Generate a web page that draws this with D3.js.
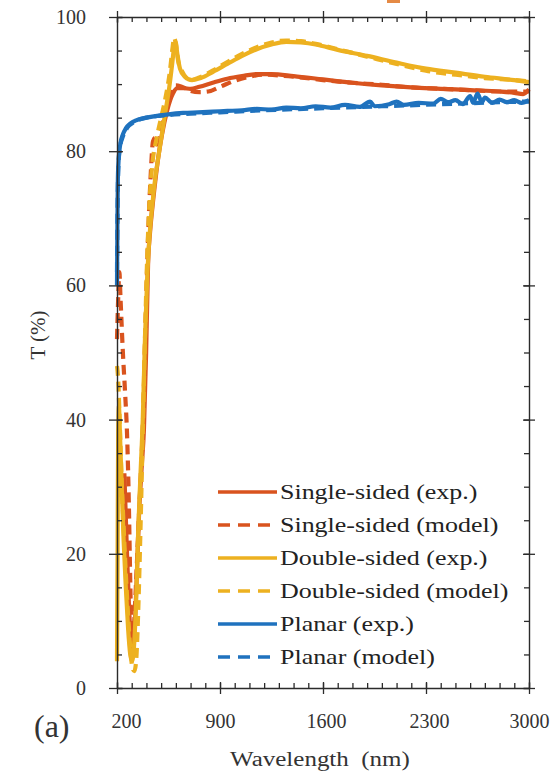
<!DOCTYPE html>
<html><head><meta charset="utf-8">
<script src="https://cdn.jsdelivr.net/npm/d3@7"></script>
<style>
html,body{margin:0;padding:0;background:#fff;}
svg{display:block;}
svg text{font-family:"Liberation Serif","Times New Roman",Times,serif;}
</style></head>
<body><svg id="chart" width="560" height="774"></svg>
<script>
// ---- data (wavelength nm, transmittance %) ----
const singleExp = [[250,32],[265,22],[280,13],[295,7],[308,5.5],[320,9],[335,17],[350,26],[368,33],[383,38.5],[398,50],[411,63],[425,68],[440,71.5],[460,75.5],[480,79],[506,82.5],[540,86],[580,88.6],[610,89.4],[650,89.4],[700,89.3],[760,89.6],[850,90.2],[950,90.8],[1050,91.2],[1150,91.5],[1250,91.5],[1400,91.2],[1600,90.7],[1800,90.2],[2000,89.8],[2200,89.5],[2400,89.3],[2600,89.1],[2800,88.9],[2900,88.7],[2960,88.5],[3000,89.2]];
const singleModel = [[200,52],[208,58],[216,62],[224,58],[240,50],[255,44],[268,38],[280,28],[290,16],[298,8],[305,6],[315,9],[328,15],[340,21],[358,30],[377,40],[395,55],[411,67],[428,76],[445,81.5],[460,82],[475,81],[495,82.5],[525,85.5],[560,88],[600,89.8],[640,89.6],[700,89],[760,88.8],[820,88.9],[900,89.6],[1000,90.5],[1100,91.1],[1200,91.4],[1400,91.1],[1600,90.6],[1800,90.2],[2000,89.9],[2200,89.5],[2400,89.3],[2600,89.1],[2800,88.9],[3000,88.9]];
const doubleExp = [[200,4],[204,20],[208,38],[213,42],[220,38],[232,30],[245,22],[260,15],[275,9],[290,5],[302,4],[315,6],[330,13],[345,24],[360,32],[375,40],[390,52],[405,61],[420,67],[440,72],[460,76],[480,79],[505,82.5],[530,86],[555,89.5],[575,93],[588,95.5],[598,96.3],[610,94.5],[628,92.3],[660,91.1],[710,90.6],[770,90.9],[850,91.8],[950,93],[1050,94.2],[1150,95.2],[1250,95.9],[1350,96.3],[1450,96.2],[1550,95.9],[1700,95.1],[1900,94.2],[2100,93.2],[2300,92.3],[2500,91.7],[2700,91.1],[2900,90.6],[3000,90.3]];
const doubleModel = [[200,48],[208,46],[218,40],[230,32],[245,24],[260,17],[275,11],[290,6],[305,3],[318,2.5],[330,4],[345,12],[360,24],[375,38],[390,52],[405,64],[420,72],[440,78],[470,82],[500,85],[530,88],[560,92],[578,95.5],[588,96.9],[600,96],[615,93.5],[640,92],[700,90.6],[760,91],[850,92],[950,93.3],[1050,94.5],[1150,95.5],[1250,96.2],[1350,96.5],[1450,96.4],[1550,96],[1700,95.2],[1900,94.1],[2100,93],[2300,92],[2500,91.4],[2700,90.9],[2900,90.6],[3000,90.4]];
const planarExp = [[200,60],[203,70],[206,76],[212,79],[222,81],[240,82.5],[260,83.4],[290,84.1],[330,84.6],[380,84.9],[450,85.2],[550,85.5],[650,85.7],[750,85.8],[850,85.9],[950,86],[1050,86.1],[1150,86.3],[1250,86.2],[1350,86.5],[1450,86.4],[1550,86.7],[1650,86.5],[1750,86.9],[1850,86.6],[1920,87.4],[1950,86.7],[2050,87],[2100,87.4],[2150,86.9],[2250,87.2],[2350,87.1],[2400,87.8],[2450,87.3],[2500,87.6],[2550,87],[2600,88.2],[2620,87.2],[2650,88.6],[2680,87.3],[2700,88],[2750,87.2],[2800,87.7],[2850,87.3],[2900,87.6],[2950,87.2],[3000,87.6]];
const planarModel = [[200,62],[204,72],[210,78],[220,80.5],[240,82.2],[270,83.5],[320,84.4],[400,85],[500,85.3],[700,85.6],[900,85.8],[1200,86.1],[1600,86.4],[2000,86.7],[2400,87],[2800,87.3],[3000,87.4]];

const seriesNames = ["Single-sided (exp.)","Single-sided (model)","Double-sided (exp.)","Double-sided (model)","Planar (exp.)","Planar (model)"];
const seriesData = [singleExp, singleModel, doubleExp, doubleModel, planarExp, planarModel];
const seriesColors = ["#D9531E","#D9531E","#EDB120","#EDB120","#1F72BE","#1F72BE"];
const seriesDashed = [false,true,false,true,false,true];

const xMajor = [200,900,1600,2300,3000];
const xMinor = d3.range(200,3001,100);
const yMajor = [0,20,40,60,80,100];
const yMinor = d3.range(0,101,5);

// ---- layout ----
const FONT = '"Liberation Serif","Times New Roman",Times,serif';
const svg = d3.select("#chart");
const x = d3.scaleLinear().domain([200,3000]).range([117,529]);
const y = d3.scaleLinear().domain([0,100]).range([688,17]);
const axisColor = "#2b2b2b", textColor = "#333";

// decoration at top (cropped element of original)
svg.append("rect").attr("x",387).attr("y",0).attr("width",13).attr("height",3).attr("fill","#E58A45");

// curves
const line = d3.line().x(d=>x(d[0])).y(d=>y(d[1])).curve(d3.curveMonotoneX);
const g = svg.append("g");
seriesData.forEach((data,i)=>{
  g.append("path").datum(data)
    .attr("d",line)
    .attr("fill","none")
    .attr("stroke",seriesColors[i])
    .attr("stroke-width",4.2)
    .attr("stroke-linejoin","round")
    .attr("stroke-dasharray",seriesDashed[i]?"10,6":null);
});

// axes
function styleAxis(sel){
  sel.attr("font-family",FONT);
  sel.select(".domain").attr("stroke",axisColor).attr("stroke-width",1.4);
  sel.selectAll(".tick line").attr("stroke",axisColor).attr("stroke-width",1.3);
}
const fmt = d3.format("d");
// bottom
const bMinor = svg.append("g").attr("transform","translate(0,688)")
  .call(d3.axisBottom(x).tickValues(xMinor).tickSize(-5).tickSizeOuter(0).tickFormat(""));
styleAxis(bMinor);
const bMajor = svg.append("g").attr("transform","translate(0,688)")
  .call(d3.axisBottom(x).tickValues(xMajor).tickSize(6).tickSizeOuter(0).tickPadding(20).tickFormat(fmt));
styleAxis(bMajor);
bMajor.select(".domain").remove();
bMajor.selectAll(".tick line").attr("y1",-6);
bMajor.selectAll(".tick text").attr("fill",textColor).attr("font-size",20)
  .attr("dx",d=>d===200?9:(d===1600||d===2300?3:0));
// top
const tMinor = svg.append("g").attr("transform","translate(0,17)")
  .call(d3.axisTop(x).tickValues(xMinor).tickSize(-5).tickSizeOuter(0).tickFormat(""));
styleAxis(tMinor);
const tMajor = svg.append("g").attr("transform","translate(0,17)")
  .call(d3.axisTop(x).tickValues(xMajor).tickSize(6).tickSizeOuter(0).tickFormat(""));
styleAxis(tMajor);
tMajor.select(".domain").remove();
tMajor.selectAll(".tick line").attr("y1",6);
// left
const lMinor = svg.append("g").attr("transform","translate(117,0)")
  .call(d3.axisLeft(y).tickValues(yMinor).tickSize(-5).tickSizeOuter(0).tickFormat(""));
styleAxis(lMinor);
const lMajor = svg.append("g").attr("transform","translate(117,0)")
  .call(d3.axisLeft(y).tickValues(yMajor).tickSize(8).tickSizeOuter(0).tickPadding(23).tickFormat(fmt));
styleAxis(lMajor);
lMajor.select(".domain").remove();
lMajor.selectAll(".tick line").attr("x1",6);
lMajor.selectAll(".tick text").attr("fill",textColor).attr("font-size",20);
// right
const rMinor = svg.append("g").attr("transform","translate(529,0)")
  .call(d3.axisRight(y).tickValues(yMinor).tickSize(-5).tickSizeOuter(0).tickFormat(""));
styleAxis(rMinor);
const rMajor = svg.append("g").attr("transform","translate(529,0)")
  .call(d3.axisRight(y).tickValues(yMajor).tickSize(6).tickSizeOuter(0).tickFormat(""));
styleAxis(rMajor);
rMajor.select(".domain").remove();
rMajor.selectAll(".tick line").attr("x1",-6);

// axis titles
svg.append("text").attr("x",320).attr("y",766).attr("text-anchor","middle")
  .attr("font-family",FONT)
  .attr("fill",textColor).attr("font-size",20).attr("transform","translate(320,0) scale(1.25,1) translate(-320,0)")
  .attr("xml:space","preserve").text("Wavelength  (nm)");
svg.append("text").attr("transform","translate(45,335) rotate(-90)").attr("text-anchor","middle")
  .attr("font-family",FONT)
  .attr("fill",textColor).attr("font-size",21).text("T (%)");
svg.append("text").attr("x",34).attr("y",737).attr("fill",textColor)
  .attr("font-family",FONT).attr("font-size",32).text("(a)");

// legend
const legend = svg.append("g");
seriesNames.forEach((name,i)=>{
  const yy = 492 + i*33;
  legend.append("line").attr("x1",218).attr("x2",277).attr("y1",yy).attr("y2",yy)
    .attr("stroke",seriesColors[i]).attr("stroke-width",3.5)
    .attr("stroke-dasharray",seriesDashed[i]?"12,8":null);
  legend.append("text").attr("x",280).attr("y",yy+7).attr("fill","#222")
    .attr("font-family",FONT)
    .attr("font-size",22)
    .attr("transform",`translate(280,0) scale(1.18,1) translate(-280,0)`)
    .text(name);
});
</script></body></html>
